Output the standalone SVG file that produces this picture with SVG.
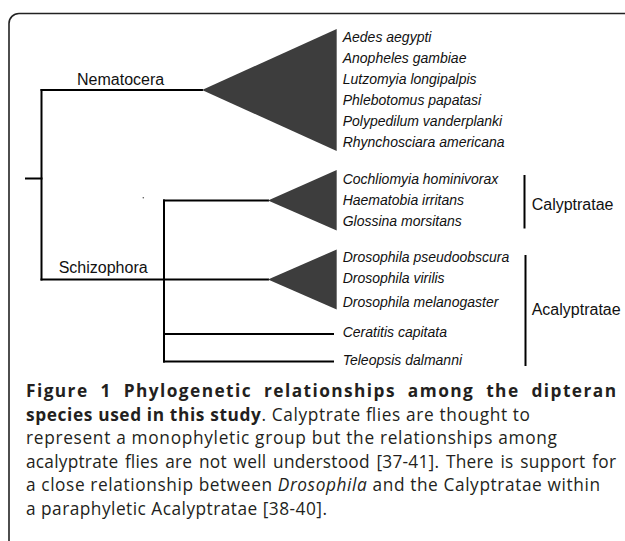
<svg xmlns="http://www.w3.org/2000/svg" width="625" height="541" viewBox="0 0 625 541">
<style>
.ln{stroke:#000;stroke-width:2;fill:none;stroke-linecap:square}
.tri{fill:#3d3d3d;stroke:none}
.sp{font-family:"Liberation Sans",Arial,sans-serif;font-size:14px;font-style:italic;fill:#111}
.cl{font-family:"Liberation Sans",Arial,sans-serif;font-size:16px;fill:#111}
.cap{font-family:"Open Sans","Noto Sans",sans-serif;font-size:17.3px;fill:#231f20}
.b{font-weight:bold}
.br{stroke:#000;stroke-width:2}
</style>
<rect width="625" height="541" fill="#fff"/>
<path d="M625,13.5 H19 A10,10 0 0 0 9,23.5 V541" fill="none" stroke="#222" stroke-width="1.6"/>
<g id="connectors">
<path class="ln" d="M26,178.5 H41.5"/>
<path class="ln" d="M41.5,90 V279.5"/>
<path class="ln" d="M41.5,90 H202"/>
<path class="ln" d="M41.5,279.5 H268"/>
<path class="ln" d="M164,200.5 V361.5"/>
<path class="ln" d="M164,200.5 H268"/>
<path class="ln" d="M164,334 H333"/>
<path class="ln" d="M164,361.5 H333"/>
<circle cx="143.3" cy="197.7" r="0.8" fill="#555"/>
</g>
<g id="nematocera">
<text class="cl" x="77" y="85">Nematocera</text>
<polygon class="tri" points="202,90 336.7,29 336.7,151"/>
<text class="sp" x="342.7" y="41.7">Aedes aegypti</text>
<text class="sp" x="342.7" y="62.7">Anopheles gambiae</text>
<text class="sp" x="342.7" y="83.7">Lutzomyia longipalpis</text>
<text class="sp" x="342.7" y="104.7">Phlebotomus papatasi</text>
<text class="sp" x="342.7" y="125.7">Polypedilum vanderplanki</text>
<text class="sp" x="342.7" y="146.7">Rhynchosciara americana</text>
</g>
<g id="schizophora">
<text class="cl" x="58.7" y="273">Schizophora</text>
</g>
<g id="calyptrate-clade">
<polygon class="tri" points="268,200.5 336.7,170 336.7,230.5"/>
<text class="sp" x="342.7" y="184">Cochliomyia hominivorax</text>
<text class="sp" x="342.7" y="205">Haematobia irritans</text>
<text class="sp" x="342.7" y="226">Glossina morsitans</text>
</g>
<g id="drosophila-clade">
<polygon class="tri" points="268,279.5 336.7,249.5 336.7,309.5"/>
<text class="sp" x="342.7" y="262">Drosophila pseudoobscura</text>
<text class="sp" x="342.7" y="283">Drosophila virilis</text>
<text class="sp" x="342.7" y="307">Drosophila melanogaster</text>
</g>
<g id="ceratitis">
<text class="sp" x="342.7" y="337">Ceratitis capitata</text>
</g>
<g id="teleopsis">
<text class="sp" x="342.7" y="365">Teleopsis dalmanni</text>
</g>
<g id="calyptratae">
<line class="br" x1="524.5" y1="175" x2="524.5" y2="228.5"/>
<text class="cl" x="531.7" y="209.5">Calyptratae</text>
</g>
<g id="acalyptratae">
<line class="br" x1="525.5" y1="255" x2="525.5" y2="366"/>
<text class="cl" x="531.7" y="315">Acalyptratae</text>
</g>
<g id="caption">
<text class="cap b" x="26" y="397" font-size="17.8" word-spacing="6" textLength="590" lengthAdjust="spacing">Figure 1 Phylogenetic relationships among the dipteran</text>
<text class="cap" x="26" y="420.5" textLength="504" lengthAdjust="spacing"><tspan class="b">species used in this study</tspan>. Calyptrate flies are thought to</text>
<text class="cap" x="26" y="444" textLength="531" lengthAdjust="spacing">represent a monophyletic group but the relationships among</text>
<text class="cap" x="26" y="467.5" word-spacing="2" textLength="590" lengthAdjust="spacing">acalyptrate flies are not well understood [37-41]. There is support for</text>
<text class="cap" x="26" y="491" textLength="574" lengthAdjust="spacing">a close relationship between <tspan font-style="italic">Drosophila</tspan> and the Calyptratae within</text>
<text class="cap" x="26" y="514.5" textLength="301" lengthAdjust="spacing">a paraphyletic Acalyptratae [38-40].</text>
</g>
</svg>
